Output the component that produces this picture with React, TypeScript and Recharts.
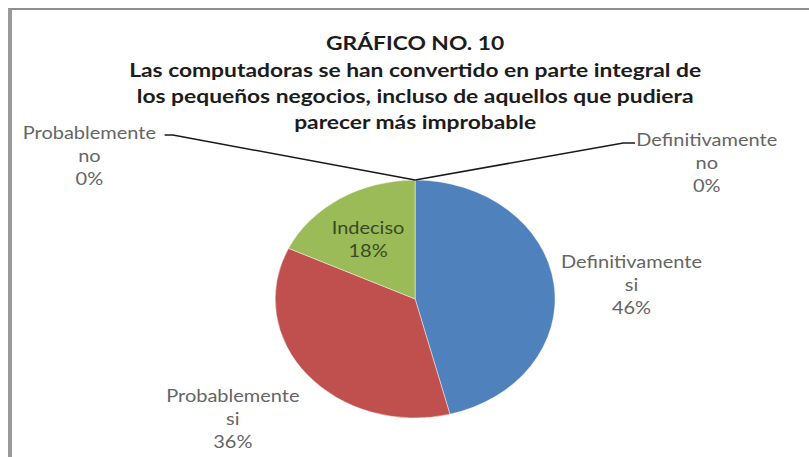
import React from "react";
import { PieChart, Pie, Cell } from "recharts";

const categories = [
  "Definitivamente si",
  "Probablemente si",
  "Indeciso",
  "Probablemente no",
  "Definitivamente no",
];
const labelLines = [
  ["Definitivamente", "si"],
  ["Probablemente", "si"],
  ["Indeciso"],
  ["Probablemente", "no"],
  ["Definitivamente", "no"],
];
const values = [46, 36, 18, 0, 0];
const colors = ["#4F81BD", "#C0504D", "#9BBB59", "#8064A2", "#4BACC6"];
const titleLines = [
  "GRÁFICO NO. 10",
  "Las computadoras se han convertido en parte integral de",
  "los pequeños negocios, incluso de aquellos que pudiera",
  "parecer más improbable",
];

const data = categories.map((name, i) => ({ name, value: values[i] }));

const SX = 1.176;
const W = 809 / SX;
const H = 457;
const FONT = "Lato, 'Open Sans', sans-serif";

// label anchor offsets relative to pie centre (unscaled coordinates)
const labelOffsets = [
  { dx: 184, dy: -37 },
  { dx: -155, dy: 97 },
  { dx: -40, dy: -71 },
  { dx: -277, dy: -166 },
  { dx: 248, dy: -159 },
];
const leaderEnds: Record<number, [number, number][]> = {
  3: [[-206, -164], [-213, -164]],
  4: [[177, -156], [187, -156]],
};

const RADIAN = Math.PI / 180;

const renderLabel = (props: any) => {
  const { cx, cy, midAngle, outerRadius, index, percent } = props;
  const off = labelOffsets[index];
  const x = cx + off.dx;
  const y = cy + off.dy;
  const lines = [...labelLines[index], `${Math.round(percent * 100)}%`];
  const fill = index === 2 ? "#3A4A22" : "#656565";
  let leader = null;
  if (leaderEnds[index]) {
    const sx = cx + outerRadius * Math.cos(-midAngle * RADIAN);
    const sy = cy + outerRadius * Math.sin(-midAngle * RADIAN);
    const pts = [[sx, sy], ...leaderEnds[index].map(([a, b]) => [cx + a, cy + b])];
    leader = (
      <polyline
        points={pts.map((p) => p.join(",")).join(" ")}
        fill="none"
        stroke="#1a1a1a"
        strokeWidth={1.5}
      />
    );
  }
  return (
    <g key={`lbl-${index}`}>
      {leader}
      <text
        x={x}
        y={y}
        textAnchor="middle"
        fill={fill}
        fontFamily={FONT}
        fontSize={17}
      >
        {lines.map((l, i) => (
          <tspan key={i} x={x} y={y + i * 23} dominantBaseline="central">
            {l}
          </tspan>
        ))}
      </text>
    </g>
  );
};

export default function App() {
  return (
    <div
      style={{
        position: "absolute",
        left: 0,
        top: 0,
        width: 809,
        height: 457,
        background: "#fff",
        overflow: "hidden",
      }}
    >
      <div
        style={{
          position: "absolute",
          left: 8,
          top: 8,
          width: 809,
          height: 457,
          borderLeft: "4px solid #9a9a9a",
          borderTop: "2px solid #8f8f8f",
          boxSizing: "border-box",
        }}
      />
      <div
        style={{
          position: "absolute",
          left: 0,
          top: 0,
          width: W,
          height: H,
          transform: `scaleX(${SX})`,
          transformOrigin: "0 0",
        }}
      >
        <PieChart width={W} height={H} margin={{ top: 0, right: 0, bottom: 0, left: 0 }}>
          <Pie
            data={data}
            dataKey="value"
            nameKey="name"
            cx={353}
            cy={299}
            outerRadius={119}
            startAngle={90}
            endAngle={-270}
            stroke="#ffffff"
            strokeWidth={0.4}
            label={renderLabel}
            labelLine={false}
            isAnimationActive={false}
          >
            {data.map((d, i) => (
              <Cell key={d.name} fill={colors[i]} />
            ))}
          </Pie>
        </PieChart>
        <svg
          width={W}
          height={H}
          style={{ position: "absolute", left: 0, top: 0, pointerEvents: "none" }}
        >
          {titleLines.map((t, i) => (
            <text
              key={i}
              x={353}
              y={[43, 70, 96, 122][i]}
              textAnchor="middle"
              dominantBaseline="central"
              fontFamily={FONT}
              fontWeight="bold"
              fontSize={19.4}
              fill="#1c1c1c"
            >
              {t}
            </text>
          ))}
        </svg>
      </div>
    </div>
  );
}
